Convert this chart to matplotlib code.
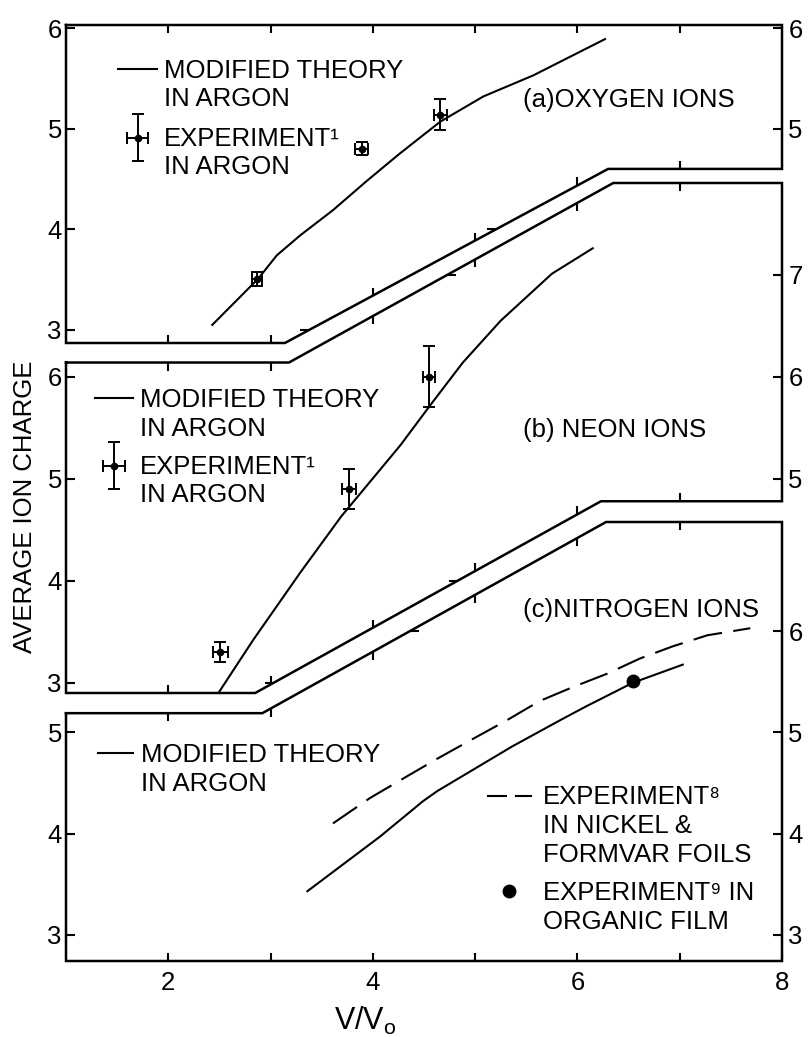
import numpy as np
import matplotlib
matplotlib.use("Agg")
import matplotlib.pyplot as plt
from matplotlib.lines import Line2D
from matplotlib.legend import Legend
from matplotlib.markers import TICKUP, TICKDOWN, TICKLEFT, TICKRIGHT
from matplotlib.container import ErrorbarContainer
from matplotlib.legend_handler import HandlerErrorbar

plt.rcParams['font.family'] = ['Liberation Sans', 'DejaVu Sans']
plt.rcParams['mathtext.fontset'] = 'custom'
plt.rcParams['mathtext.rm'] = 'Liberation Sans'
plt.rcParams['mathtext.it'] = 'Liberation Sans'

# ---------------- data ----------------
x_range = (1, 8)
x_ticks = [2, 3, 4, 5, 6, 7, 8]
x_ticklabels = ['2', '', '4', '', '6', '', '8']
inner_x_ticks = [2, 3, 4, 5, 6, 7]

# (a) oxygen ions
oxy_theory_x = [2.43, 2.88, 3.06, 3.29, 3.61, 3.94, 4.26, 4.66, 5.08, 5.57, 5.90, 6.27]
oxy_theory_y = [3.05, 3.51, 3.74, 3.94, 4.19, 4.48, 4.75, 5.07, 5.32, 5.53, 5.70, 5.89]
oxy_exp_x = [2.87, 3.89, 4.66]
oxy_exp_y = [3.51, 4.80, 5.14]
oxy_exp_xerr = [0.05, 0.065, 0.065]
oxy_exp_yerr = [0.07, 0.065, 0.155]

# (b) neon ions
neon_theory_x = [2.49, 2.83, 3.29, 3.69, 4.27, 4.56, 4.88, 5.25, 5.75, 6.15]
neon_theory_y = [2.90, 3.42, 4.08, 4.63, 5.33, 5.72, 6.14, 6.55, 7.01, 7.26]
neon_exp_x = [2.51, 3.77, 4.55]
neon_exp_y = [3.30, 4.90, 6.00]
neon_exp_xerr = [0.07, 0.07, 0.06]
neon_exp_yerr = [0.10, 0.20, 0.30]

# (c) nitrogen ions
nit_theory_x = [3.36, 4.07, 4.49, 4.63, 5.36, 5.83, 6.09, 6.54, 7.03]
nit_theory_y = [3.43, 3.97, 4.32, 4.42, 4.86, 5.12, 5.26, 5.49, 5.67]
nit_exp8_x = [3.61, 3.97, 4.29, 4.63, 4.95, 5.31, 5.63, 5.96, 6.29, 6.61, 6.93, 7.27, 7.69]
nit_exp8_y = [4.10, 4.35, 4.54, 4.74, 4.92, 5.12, 5.31, 5.45, 5.58, 5.73, 5.85, 5.96, 6.03]
nit_exp9_x = [6.54]
nit_exp9_y = [5.51]

# y ranges and tick sets of each panel
a_ylim = (2.87, 6.03)
b_ylim = (2.90, 7.90)
c_ylim = (2.74, 7.08)
a_left_ticks, a_right_ticks = [3, 4, 5, 6], [5, 6]
b_left_ticks, b_right_ticks = [3, 4, 5, 6], [5, 6, 7]
c_left_ticks, c_right_ticks = [3, 4, 5], [3, 4, 5, 6]

# stepped panel borders (panel data coordinates)
a_bottom_x, a_bottom_y = [1, 3.14, 6.30, 8], [2.87, 2.87, 4.60, 4.60]
b_top_x, b_top_y = [1, 3.18, 6.35, 8], [6.14, 6.14, 7.90, 7.90]
b_bottom_x, b_bottom_y = [1, 2.85, 6.23, 8], [2.90, 2.90, 4.78, 4.78]
c_top_x, c_top_y = [1, 2.92, 6.28, 8], [5.19, 5.19, 7.08, 7.08]

# ---------------- layout ----------------
W, H = 810, 1037
FS = 18.5
LW = 1.5
SPW = 1.8

fig = plt.figure(figsize=(W / 100, H / 100), dpi=100)
L, R = 66, 782


def rect(top, bottom):
    return [L / W, 1 - bottom / H, (R - L) / W, (bottom - top) / H]


ax_a = fig.add_axes(rect(25, 343))
ax_b = fig.add_axes(rect(183, 693))
ax_c = fig.add_axes(rect(522, 961))


def setup(ax, ylim, left_ticks, right_ticks):
    ax.set_xlim(*x_range)
    ax.set_ylim(*ylim)
    ax.patch.set_visible(False)
    for s in ax.spines.values():
        s.set_visible(False)
    ax.set_yticks(left_ticks)
    ax.tick_params(axis='y', direction='in', length=6.5, width=1.5, pad=3,
                   labelsize=FS, left=True, right=False)
    axr = ax.twinx()
    axr.set_ylim(*ylim)
    axr.patch.set_visible(False)
    for s in axr.spines.values():
        s.set_visible(False)
    axr.set_yticks(right_ticks)
    axr.tick_params(axis='y', direction='in', length=6.5, width=1.5, pad=4.5,
                    labelsize=FS, left=False, right=True)
    return axr


setup(ax_a, a_ylim, a_left_ticks, a_right_ticks)
setup(ax_b, b_ylim, b_left_ticks, b_right_ticks)
setup(ax_c, c_ylim, c_left_ticks, c_right_ticks)

ax_a.set_xticks(inner_x_ticks)
ax_a.tick_params(axis='x', direction='in', top=True, bottom=False,
                 labelbottom=False, labeltop=False, length=5.5, width=1.5)
ax_b.set_xticks([])
ax_c.set_xticks(x_ticks)
ax_c.set_xticklabels(x_ticklabels)
ax_c.tick_params(axis='x', direction='in', top=False, bottom=True,
                 length=6, width=1.5, pad=7, labelsize=FS)

# outlines
ax_a.plot([1, 8] + a_bottom_x[::-1] + [1], [a_ylim[1], a_ylim[1]] + a_bottom_y[::-1] + [a_ylim[1]],
          color='k', lw=SPW, clip_on=False, solid_joinstyle='miter')
ax_b.plot(b_top_x + b_bottom_x[::-1] + [b_top_x[0]], b_top_y + b_bottom_y[::-1] + [b_top_y[0]],
          color='k', lw=SPW, clip_on=False, solid_joinstyle='miter')
ax_c.plot(c_top_x + [8, 1, 1], c_top_y + [c_ylim[0], c_ylim[0], c_top_y[0]],
          color='k', lw=SPW, clip_on=False, solid_joinstyle='miter')


def border_ticks(ax, bx, by, vmark, hticks, hmark):
    tx = np.array(inner_x_ticks, dtype=float)
    ty = np.interp(tx, bx, by)
    ax.plot(tx, ty, ls='none', marker=vmark, ms=6, mew=1.5, color='k', clip_on=False)
    hx = np.interp(hticks, by[1:3], bx[1:3])
    ax.plot(hx, hticks, ls='none', marker=hmark, ms=6.5, mew=1.5, color='k', clip_on=False)


border_ticks(ax_a, a_bottom_x, a_bottom_y, TICKUP, [3, 4], TICKLEFT)
border_ticks(ax_b, b_top_x, b_top_y, TICKDOWN, [7], TICKRIGHT)
border_ticks(ax_b, b_bottom_x, b_bottom_y, TICKUP, [3, 4], TICKLEFT)
border_ticks(ax_c, c_top_x, c_top_y, TICKDOWN, [6], TICKRIGHT)

# data
eb_kw = dict(fmt='o', ms=4.5, color='k', ecolor='k', elinewidth=1.4, capsize=4, capthick=1.4)
la, = ax_a.plot(oxy_theory_x, oxy_theory_y, color='k', lw=LW)
ea = ax_a.errorbar(oxy_exp_x, oxy_exp_y, xerr=oxy_exp_xerr, yerr=oxy_exp_yerr, **eb_kw)
lb, = ax_b.plot(neon_theory_x, neon_theory_y, color='k', lw=LW)
eb = ax_b.errorbar(neon_exp_x, neon_exp_y, xerr=neon_exp_xerr, yerr=neon_exp_yerr, **eb_kw)
lc, = ax_c.plot(nit_theory_x, nit_theory_y, color='k', lw=LW)
ax_c.plot(nit_exp8_x, nit_exp8_y, color='k', lw=LW, ls=(0, (14, 5.5)))
ax_c.plot(nit_exp9_x, nit_exp9_y, ls='none', marker='o', ms=9, color='k')

blank = Line2D([], [], ls='none')
dash_proxy = Line2D([], [], color='k', lw=LW, ls=(0, (9.6, 3.8)))
dot_proxy = Line2D([], [], ls='none', marker='o', ms=9, color='k')
err_handler = {ErrorbarContainer: HandlerErrorbar(xerr_size=0.41, yerr_size=0.91)}


def add_legend(ax, handles, labels, x_px, center_px, hl, htp, ls, hmap=None):
    top = center_px - 9.5
    leg = Legend(ax, handles, labels, loc='upper left',
                 bbox_to_anchor=(x_px / W, 1 - top / H), bbox_transform=fig.transFigure,
                 frameon=False, borderpad=0, borderaxespad=0, handlelength=hl,
                 handletextpad=htp, labelspacing=ls, fontsize=FS, numpoints=1,
                 handler_map=hmap)
    ax.add_artist(leg)


add_legend(ax_a, [la, blank], ['MODIFIED THEORY', 'IN ARGON'], 118, 68, 1.52, 0.27, 0.19)
add_legend(ax_a, [ea, blank], ['EXPERIMENT\u00b9', 'IN ARGON'], 118, 137, 1.52, 0.27, 0.15, err_handler)
add_legend(ax_b, [lb, blank], ['MODIFIED THEORY', 'IN ARGON'], 95, 397, 1.48, 0.27, 0.22)
add_legend(ax_b, [eb, blank], ['EXPERIMENT\u00b9', 'IN ARGON'], 95, 465, 1.48, 0.27, 0.15, err_handler)
add_legend(ax_c, [lc, blank], ['MODIFIED THEORY', 'IN ARGON'], 98, 752, 1.36, 0.31, 0.22)
add_legend(ax_c, [dash_proxy, blank, blank], ['EXPERIMENT\u2078', 'IN NICKEL &', 'FORMVAR FOILS'],
           487, 795, 1.75, 0.43, 0.19)
add_legend(ax_c, [dot_proxy, blank], ['EXPERIMENT\u2079 IN', 'ORGANIC FILM'], 487, 890, 1.75, 0.43, 0.23)

# panel labels
fig.text(523 / W, 1 - (98 + 9.3) / H, '(a)OXYGEN IONS', fontsize=FS, va='baseline', ha='left')
fig.text(523 / W, 1 - (428 + 9.3) / H, '(b) NEON IONS', fontsize=FS, va='baseline', ha='left')
fig.text(523 / W, 1 - (608 + 9.3) / H, '(c)NITROGEN IONS', fontsize=FS, va='baseline', ha='left')

fig.text(25 / W, 1 - 507 / H, 'AVERAGE ION CHARGE', rotation=90, ha='center', va='center', fontsize=FS)
fig.text(365 / W, 1 - 1030 / H, r'$\mathrm{V/V_o}$', fontsize=22, ha='center', va='baseline')

fig.savefig('out.png', dpi=100)
